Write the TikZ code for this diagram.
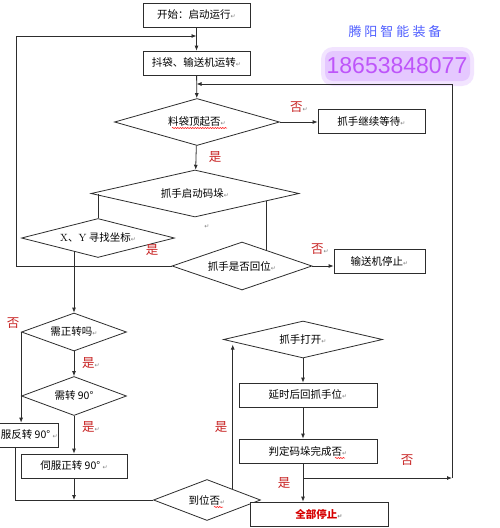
\documentclass[tikz,border=0pt]{standalone}
\usepackage{fontspec}
\usepackage{tikz}
\usetikzlibrary{shapes.geometric,arrows.meta,decorations.pathmorphing}

\newfontfamily\cjk{Noto Sans CJK SC}
\newfontfamily\symfont{DejaVu Sans}
\newfontfamily\numfont{Liberation Sans}

\definecolor{lineGray}{RGB}{45,45,45}
\definecolor{labelRed}{RGB}{200,35,35}
\definecolor{stopRed}{RGB}{215,0,0}
\definecolor{markBlue}{RGB}{80,95,255}
\definecolor{phoneViolet}{RGB}{190,85,250}
\definecolor{glowViolet}{RGB}{205,150,255}

\newcommand{\retmark}{{\symfont\fontsize{6}{6}\selectfont\color{gray}↵}}

\tikzset{
  box/.style={draw=lineGray, line width=0.8pt, fill=white, rectangle, minimum height=24, inner sep=1pt, font=\cjk\fontsize{10.5}{12}\selectfont},
  decision/.style={draw=lineGray, line width=0.8pt, fill=white, diamond, aspect=3, inner sep=1pt, font=\cjk\fontsize{10.5}{12}\selectfont},
  arr/.style={draw=lineGray, line width=0.8pt, -{Latex[length=5pt,width=4pt]}},
  conn/.style={draw=lineGray, line width=0.8pt},
  lbl/.style={text=labelRed, inner sep=0pt, font=\cjk\fontsize{12.5}{14}\selectfont},
  wavy/.style={draw=red, line width=0.5pt, decorate, decoration={snake, amplitude=0.6pt, segment length=2.5pt}}
}

\begin{document}
\begin{tikzpicture}[x=1pt, y=-1pt]
    \clip (0,0) rectangle (500,528);
    \fill[white] (0,0) rectangle (500,528);

%% watermark top right
    \node[text=markBlue, font=\cjk\fontsize{13}{15}\selectfont] (brand) at (395,32) {腾\hspace{3pt}阳\hspace{3pt}智\hspace{3pt}能\hspace{3pt}装\hspace{3pt}备};
    \fill[glowViolet, opacity=0.25, rounded corners=12] (321,47) rectangle (474,86);
    \fill[glowViolet, opacity=0.35, rounded corners=8] (325,51) rectangle (470,81);
    \node[text=phoneViolet, font=\numfont\fontsize{23}{25}\selectfont] (phone) at (397,66) {18653848077};

%% boxes and decisions
    \node[box, minimum width=107] (start) at (196.5,15) {开始：启动运行\retmark};
    \node[box, minimum width=107] (run) at (196.5,63) {抖袋、输送机运转\retmark};
    \node[decision, minimum width=165, minimum height=47] (lift) at (197,122) {料袋顶起否\retmark};
    \node[box, minimum width=107] (wait) at (371.5,121) {抓手继续等待\retmark};
    \node[decision, minimum width=208, minimum height=47] (stack) at (195,193.5) {抓手启动码垛\retmark};
    \node[decision, minimum width=153, minimum height=39] (xy) at (98,238) {\textrm{X}、\textrm{Y} 寻找坐标\retmark};
    \node[decision, minimum width=140, minimum height=48] (back) at (242,266) {抓手是否回位\retmark};
    \node[box, minimum width=91] (halt) at (379.5,261) {输送机停止\retmark};
    \node[decision, minimum width=105, minimum height=38] (need) at (74,332) {需正转吗\retmark};
    \node[decision, minimum width=105, minimum height=39] (turn) at (74,396) {需转 90°};
    \node[box, minimum width=68] (rev) at (24,435) {伺服反转 90° \retmark};
    \node[box, minimum width=106] (fwd) at (74,466) {伺服正转 90° \retmark};
    \node[decision, minimum width=107, minimum height=41] (arrive) at (207,500) {到位否\retmark};
    \node[decision, minimum width=159, minimum height=37] (open) at (303,339.5) {抓手打开\retmark};
    \node[box, minimum width=138] (delay) at (308,395) {延时后回抓手位\retmark};
    \node[box, minimum width=138] (judge) at (308,451) {判定码垛完成否\retmark};
    \node[box, minimum width=138, font=\cjk\bfseries\fontsize{10.5}{12}\selectfont, text=stopRed] (stop) at (319,514) {全部停止\retmark};
    \node (stray) at (207,227) {\retmark};

%% spell check marks
    \draw[wavy] (172,128) -- (227,128);
    \draw[wavy] (214,507) -- (223,507);
    \draw[wavy] (335,458) -- (345,458);

%% connectors
    \coordinate (loopL) at (16,36);
    \coordinate (loopR) at (452,84);
    \coordinate (br) at (303,478);
    \coordinate (revout) at (15,447);
    \draw[arr] (start) -- (run);
    \draw[arr] (back.west) -| (loopL) -- (loopL -| start.south);
    \draw[arr] (run) -- (lift);
    \draw[arr] (lift.east) -- (lift.east -| wait.west);
    \draw[arr] (lift) -- (stack);
    \draw[conn] (xy.north) -- (xy.north |- stack.west);
    \draw[conn] (stack.-6.5) -- (stack.-6.5 |- back.35);
    \draw[arr] (back.east) -- (back.east -| halt.west);
    \draw[arr] (need.north |- xy.208) -- (need.north);
    \draw[arr] (need) -- (turn);
    \draw[arr] (need.west) -- (need.west |- rev.north);
    \draw[arr] (turn) -- (fwd);
    \draw[conn] (revout) |- (arrive.west);
    \draw[arr] (fwd) -- (fwd |- arrive.west);
    \draw[arr] (arrive.23) -- (arrive.23 |- open.185);
    \draw[arr] (open) -- (open.south |- delay.north);
    \draw[arr] (open.south |- delay.south) -- (open.south |- judge.north);
    \draw[arr] (open.south |- judge.south) -- (open.south |- stop.north);
    \draw[arr] (br) -- (br -| loopR);
    \draw[arr] (br -| loopR) -- (loopR) -- (loopR -| run.south);

%% yes / no labels
    \node[lbl] (n1) at (299,107) {否\retmark};
    \node[lbl] (y1) at (215,157) {是};
    \node[lbl] (y2) at (152,250) {是};
    \node[lbl] (n2) at (320,249) {否\retmark};
    \node[lbl] (n3) at (13,323) {否};
    \node[lbl] (y3) at (91,363) {是\retmark};
    \node[lbl] (y4) at (91,427) {是\retmark};
    \node[lbl] (y5) at (221,427) {是};
    \node[lbl] (y6) at (284,483) {是};
    \node[lbl] (n4) at (407,460) {否};
\end{tikzpicture}
\end{document}
